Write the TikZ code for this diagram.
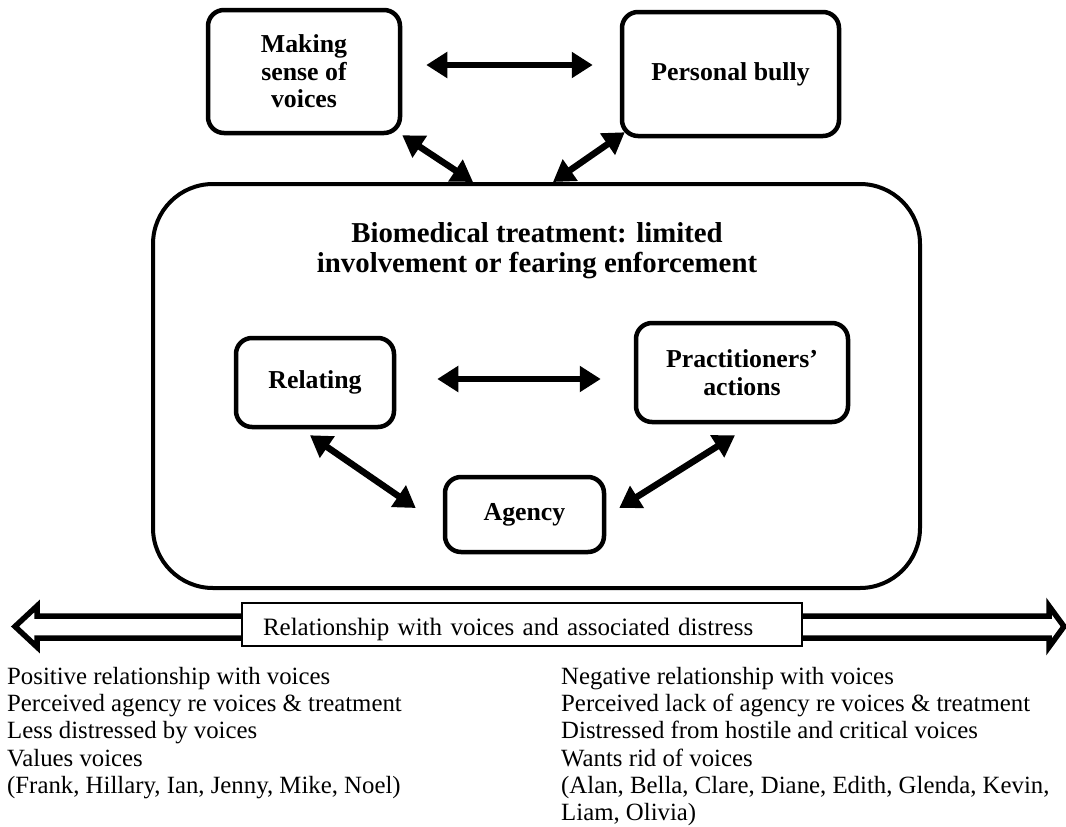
\documentclass[tikz,border=0pt]{standalone}
\usepackage{fontspec}
\setmainfont{Liberation Serif}
\usetikzlibrary{arrows.meta,positioning}

\begin{document}
\begin{tikzpicture}[%
x=1pt, y=-1pt,
>={Triangle[length=21pt,width=25pt]},
box/.style={rectangle, rounded corners=16pt, draw, line width=4.5pt, inner sep=0pt, align=center, font=\fontsize{25.8}{27.5}\selectfont\bfseries},
link/.style={<->, line width=6.5pt},
side/.style={anchor=north west, inner sep=0pt, align=left, font=\fontsize{24.8}{27.2}\selectfont}
]
\useasboundingbox[fill=white] (0,0) rectangle (1066,827);
\node[box, minimum width=192pt, minimum height=123pt] (sense) at (304,71.5) {Making\\sense of\\voices};
\node[box, minimum width=217pt, minimum height=124pt] (bully) at (730.5,74) {Personal bully};
\node[box, rounded corners=60pt, line width=4pt, minimum width=767pt, minimum height=404pt] (treat) at (536.5,386) {};
\node[inner sep=0pt, anchor=north, align=center, font=\fontsize{28.8}{30}\selectfont\bfseries] (title) at (537,222.4) {Biomedical treatment: limited\\involvement or fearing enforcement};
\node[box, minimum width=158pt, minimum height=89pt] (relating) at (315,382.5) {Relating};
\node[box, minimum width=212pt, minimum height=99pt] (practice) at (742,372.5) {Practitioners'\\actions};
\node[box, minimum width=159pt, minimum height=75pt] (agency) at (524.5,514.5) {Agency};
\draw[link] ([xshift=24pt,yshift=6.5pt]sense.east) -- ([xshift=-27pt,yshift=9pt]bully.west);
\draw[link] (sense.south east) -- ([xshift=-63.5pt]treat.north);
\draw[link] ([xshift=5pt,yshift=6pt]bully.south west) -- ([xshift=16.5pt]treat.north);
\draw[link] ([xshift=41pt,yshift=3.5pt]relating.east) -- ([xshift=-33pt,yshift=-6.5pt]practice.west);
\draw[link] ([xshift=-5pt,yshift=-6pt]relating.south) -- ([xshift=-27pt,yshift=6.5pt]agency.west);
\draw[link] ([xshift=-7pt,yshift=-11pt]practice.south) -- ([xshift=13pt,yshift=6.5pt]agency.east);
% scale of the relationship
\draw[line width=5.5pt, fill=white] (15,626.5) -- (37,606) -- (37,616) -- (1049,616) -- (1049,606) -- (1064,626.5) -- (1049,647) -- (1049,638) -- (37,638) -- (37,647) -- cycle;
\node[draw, fill=white, line width=1.2pt, minimum width=560pt, minimum height=43pt, text width=518pt, inner xsep=21pt, inner ysep=0pt, align=left, text height=21pt, text depth=0pt, font=\fontsize{25}{27}\selectfont] (scale) at (522,624.5) {Relationship with voices and associated distress};
\node[side] (positive) at (7,667) {Positive relationship with voices\\Perceived agency re voices \& treatment\\Less distressed by voices\\Values voices\\(Frank, Hillary, Ian, Jenny, Mike, Noel)};
\node[side] (negative) at (561,667) {Negative relationship with voices\\Perceived lack of agency re voices \& treatment\\Distressed from hostile and critical voices\\Wants rid of voices\\(Alan, Bella, Clare, Diane, Edith, Glenda, Kevin,\\Liam, Olivia)};
\end{tikzpicture}
\end{document}
